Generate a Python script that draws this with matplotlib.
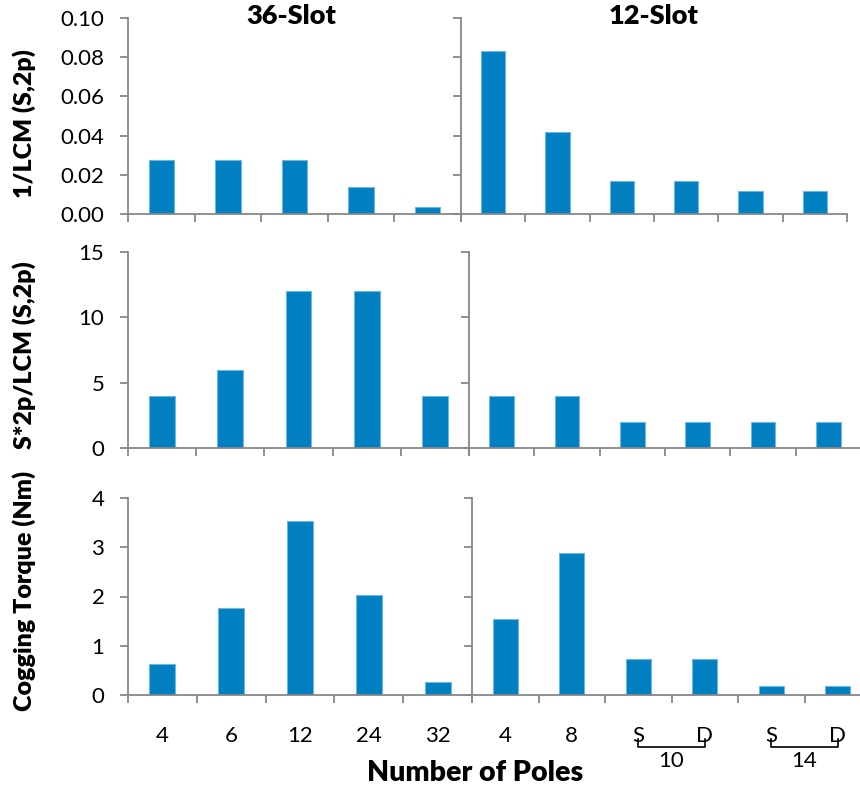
import matplotlib
matplotlib.use("Agg")
import matplotlib.pyplot as plt
import matplotlib.transforms as mtransforms
import numpy as np

plt.rcParams['font.family'] = ['Lato', 'DejaVu Sans']

# ---- data ----
cats_36 = ['4', '6', '12', '24', '32']
cats_12 = ['4', '8', 'S', 'D', 'S', 'D']
inv_lcm_36 = [0.0278, 0.0278, 0.0278, 0.0139, 0.0035]
inv_lcm_12 = [0.0833, 0.0417, 0.0167, 0.0167, 0.0119, 0.0119]
ratio_36 = [4, 6, 12, 12, 4]
ratio_12 = [4, 4, 2, 2, 2, 2]
cog_36 = [0.63, 1.77, 3.53, 2.04, 0.26]
cog_12 = [1.54, 2.89, 0.73, 0.73, 0.18, 0.18]
group_labels = ['10', '14']
title_36 = '36-Slot'
title_12 = '12-Slot'

BAR = '#0080C0'
EDGE = '#6DB6E2'
GRAY = '#878787'
W, H = 860, 792
BOLD = 'heavy'

fig = plt.figure(figsize=(W / 100, H / 100), dpi=100)


def add(x0, x1, y0, y1):
    return fig.add_axes([x0 / W, 1 - y1 / H, (x1 - x0) / W, (y1 - y0) / H])


def style(ax, cats, vals, ylim, yticks, show_ylabels, fmt, show_xlabels):
    n = len(cats)
    x = np.arange(n)
    ax.bar(x, vals, width=0.38, color=BAR, edgecolor=EDGE, linewidth=0.8, zorder=3)
    ax.set_xlim(-0.5, n - 0.5)
    ax.set_ylim(*ylim)
    for s in ['top', 'right']:
        ax.spines[s].set_visible(False)
    for s in ['left', 'bottom']:
        ax.spines[s].set_color(GRAY)
        ax.spines[s].set_linewidth(1.3)
    ax.spines['bottom'].set_zorder(4)
    ax.set_yticks(yticks)
    if show_ylabels:
        ax.set_yticklabels([fmt.format(v) for v in yticks], fontsize=16)
    else:
        ax.set_yticklabels([])
    ax.tick_params(axis='y', direction='out', length=6, width=1.3, color=GRAY, pad=11)
    ax.set_xticks(np.arange(n + 1) - 0.5, minor=True)
    ax.tick_params(axis='x', which='minor', direction='out', length=6, width=1.3, color=GRAY)
    ax.set_xticks(x)
    if show_xlabels:
        ax.set_xticklabels(cats, fontsize=16)
    else:
        ax.set_xticklabels([])
    ax.tick_params(axis='x', which='major', length=0, pad=22)
    ax.patch.set_alpha(0)


# top row
a1 = add(128, 461, 18, 214)
style(a1, cats_36, inv_lcm_36, (0, 0.10), [0, 0.02, 0.04, 0.06, 0.08, 0.10], True, '{:.2f}', False)
a2 = add(461, 847, 18, 214)
style(a2, cats_12, inv_lcm_12, (0, 0.10), [0, 0.02, 0.04, 0.06, 0.08, 0.10], False, '{:.2f}', False)
a1.text(0.49, 1.01, title_36, transform=a1.transAxes, ha='center', va='center',
        fontsize=19.5, fontweight=BOLD)
a2.text(0.5, 1.01, title_12, transform=a2.transAxes, ha='center', va='center',
        fontsize=19.5, fontweight=BOLD)

# middle row
b1 = add(128, 469, 252, 448)
style(b1, cats_36, ratio_36, (0, 15), [0, 5, 10, 15], True, '{:g}', False)
b2 = add(469, 861, 252, 448)
style(b2, cats_12, ratio_12, (0, 15), [0, 5, 10, 15], False, '{:g}', False)

# bottom row
c1 = add(128, 472, 498, 695)
style(c1, cats_36, cog_36, (0, 4), [0, 1, 2, 3, 4], True, '{:g}', True)
c2 = add(472, 871, 498, 695)
style(c2, cats_12, cog_12, (0, 4), [0, 1, 2, 3, 4], False, '{:g}', True)

# brackets grouping S/D pairs
trans = mtransforms.blended_transform_factory(c2.transData, c2.transAxes)
for k, lab in enumerate(group_labels):
    xs = 2 + 2 * k
    xd = xs + 1
    c2.plot([xs, xs, xd, xd], [-0.225, -0.265, -0.265, -0.225], color='black',
            lw=1.2, transform=trans, clip_on=False)
    c2.text((xs + xd) / 2, -0.335, lab, transform=trans, ha='center', va='center',
            fontsize=16)

# axis labels
fig.text(475 / W, 1 - 773 / H, 'Number of Poles', ha='center', va='center',
         fontsize=20.5, fontweight=BOLD)
fig.text(24 / W, 1 - 124 / H, '1/LCM (S,2p)', ha='center', va='center',
         rotation=90, fontsize=18, fontweight=BOLD)
fig.text(24 / W, 1 - 355 / H, 'S*2p/LCM (S,2p)', ha='center', va='center',
         rotation=90, fontsize=18, fontweight=BOLD)
fig.text(24 / W, 1 - 591 / H, 'Cogging Torque (Nm)', ha='center', va='center',
         rotation=90, fontsize=18, fontweight=BOLD)

fig.savefig('out.png', dpi=100)
